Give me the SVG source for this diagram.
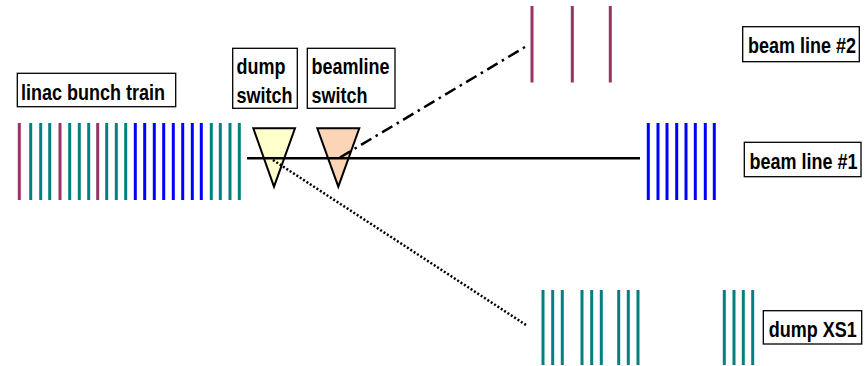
<svg xmlns="http://www.w3.org/2000/svg" width="866" height="366" viewBox="0 0 866 366">
<style>
.m{stroke:#993366;stroke-width:3}
.t{stroke:#008080;stroke-width:3}
.b{stroke:#0000FF;stroke-width:3}
.box{fill:#fff;stroke:#000;stroke-width:1.3}
.lbl{font-family:"Liberation Sans",Arial,sans-serif;font-weight:bold;font-size:18px;fill:#000}
</style>
<rect width="866" height="366" fill="#fff"/>
<g id="linac-train">
<line class="m" x1="19.3" y1="123" x2="19.3" y2="200"/>
<line class="t" x1="30.7" y1="123" x2="30.7" y2="200"/>
<line class="t" x1="40.7" y1="123" x2="40.7" y2="200"/>
<line class="t" x1="49.7" y1="123" x2="49.7" y2="200"/>
<line class="m" x1="60" y1="123" x2="60" y2="200"/>
<line class="t" x1="69.7" y1="123" x2="69.7" y2="200"/>
<line class="t" x1="79.3" y1="123" x2="79.3" y2="200"/>
<line class="t" x1="88.7" y1="123" x2="88.7" y2="200"/>
<line class="m" x1="97.7" y1="123" x2="97.7" y2="200"/>
<line class="t" x1="106.7" y1="123" x2="106.7" y2="200"/>
<line class="t" x1="116.3" y1="123" x2="116.3" y2="200"/>
<line class="t" x1="125.7" y1="123" x2="125.7" y2="200"/>
<line class="b" x1="135.3" y1="123" x2="135.3" y2="200"/>
<line class="b" x1="144.7" y1="123" x2="144.7" y2="200"/>
<line class="b" x1="154.3" y1="123" x2="154.3" y2="200"/>
<line class="b" x1="163.7" y1="123" x2="163.7" y2="200"/>
<line class="b" x1="173.3" y1="123" x2="173.3" y2="200"/>
<line class="b" x1="182.7" y1="123" x2="182.7" y2="200"/>
<line class="b" x1="192.3" y1="123" x2="192.3" y2="200"/>
<line class="b" x1="201.3" y1="123" x2="201.3" y2="200"/>
<line class="t" x1="211.3" y1="123" x2="211.3" y2="200"/>
<line class="t" x1="220.3" y1="123" x2="220.3" y2="200"/>
<line class="t" x1="230" y1="123" x2="230" y2="200"/>
<line class="t" x1="239.3" y1="123" x2="239.3" y2="200"/>
</g>
<g id="beamline2-pulses">
<line class="m" x1="532" y1="6" x2="532" y2="82.5"/>
<line class="m" x1="572.3" y1="6" x2="572.3" y2="82.5"/>
<line class="m" x1="610.3" y1="6" x2="610.3" y2="82.5"/>
</g>
<g id="beamline1-pulses">
<line class="b" x1="648.3" y1="123" x2="648.3" y2="200"/>
<line class="b" x1="658" y1="123" x2="658" y2="200"/>
<line class="b" x1="667" y1="123" x2="667" y2="200"/>
<line class="b" x1="676.7" y1="123" x2="676.7" y2="200"/>
<line class="b" x1="686" y1="123" x2="686" y2="200"/>
<line class="b" x1="695.3" y1="123" x2="695.3" y2="200"/>
<line class="b" x1="705.3" y1="123" x2="705.3" y2="200"/>
<line class="b" x1="714.3" y1="123" x2="714.3" y2="200"/>
</g>
<g id="dump-pulses">
<line class="t" x1="543" y1="290" x2="543" y2="365"/>
<line class="t" x1="552.7" y1="290" x2="552.7" y2="365"/>
<line class="t" x1="562.3" y1="290" x2="562.3" y2="365"/>
<line class="t" x1="582" y1="290" x2="582" y2="365"/>
<line class="t" x1="591.7" y1="290" x2="591.7" y2="365"/>
<line class="t" x1="601.3" y1="290" x2="601.3" y2="365"/>
<line class="t" x1="618.7" y1="290" x2="618.7" y2="365"/>
<line class="t" x1="628.3" y1="290" x2="628.3" y2="365"/>
<line class="t" x1="638" y1="290" x2="638" y2="365"/>
<line class="t" x1="724.3" y1="290" x2="724.3" y2="365"/>
<line class="t" x1="734" y1="290" x2="734" y2="365"/>
<line class="t" x1="743.3" y1="290" x2="743.3" y2="365"/>
<line class="t" x1="752.7" y1="290" x2="752.7" y2="365"/>
</g>
<g id="dump-switch-tri">
<polygon points="253.3,128.3 295,128.3 274,186.7" fill="#FFFFCC" stroke="#000" stroke-width="2"/>
</g>
<g id="beamline-switch-tri">
<polygon points="317.3,128.3 359.3,128.3 338.3,186.7" fill="#FBD5B5" stroke="#000" stroke-width="2"/>
</g>
<g id="connectors" fill="none" stroke="#000">
<line x1="247" y1="158.3" x2="640" y2="158.3" stroke-width="2.5"/>
<line x1="273" y1="160" x2="526" y2="325" stroke-width="2.5" stroke-dasharray="2 2"/>
<line x1="340" y1="157.5" x2="525" y2="47" stroke-width="2.5" stroke-dasharray="12 5 2.5 5"/>
</g>
<g id="label-linac">
<rect class="box" x="17.3" y="73.3" width="158.4" height="33.4"/>
<text class="lbl" transform="translate(21,100) scale(1,1.2)">linac bunch train</text>
</g>
<g id="label-dump-switch">
<rect class="box" x="232.7" y="48.3" width="64.6" height="60"/>
<text class="lbl" transform="translate(236.5,74.3) scale(1,1.2)">dump</text>
<text class="lbl" transform="translate(236.5,102.7) scale(1,1.2)">switch</text>
</g>
<g id="label-beamline-switch">
<rect class="box" x="307.3" y="48.3" width="87.7" height="60"/>
<text class="lbl" transform="translate(311.5,74.3) scale(1,1.2)">beamline</text>
<text class="lbl" transform="translate(311.5,102.7) scale(1,1.2)">switch</text>
</g>
<g id="label-beam-line-2">
<rect class="box" x="742.7" y="26.7" width="116.6" height="35"/>
<text class="lbl" transform="translate(748,53.3) scale(1,1.2)">beam line #2</text>
</g>
<g id="label-beam-line-1">
<rect class="box" x="744.3" y="142.3" width="116.7" height="34.4"/>
<text class="lbl" transform="translate(749.5,169.3) scale(1,1.2)">beam line #1</text>
</g>
<g id="label-dump-xs1">
<rect class="box" x="763.3" y="310.7" width="98.4" height="33.3"/>
<text class="lbl" transform="translate(768.8,336.7) scale(1,1.2)">dump XS1</text>
</g>
</svg>
